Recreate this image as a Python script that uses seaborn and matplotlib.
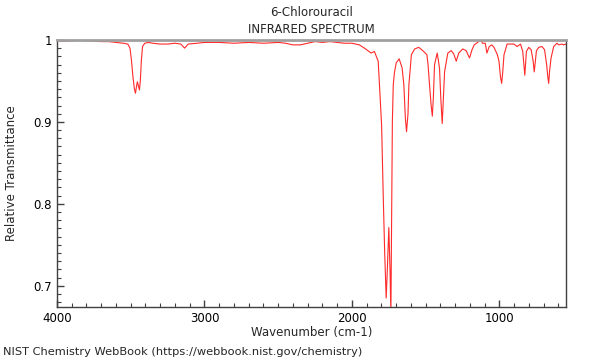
import numpy as np
import pandas as pd
import matplotlib
matplotlib.use("Agg")
import matplotlib.pyplot as plt
import seaborn as sns
from matplotlib.ticker import MultipleLocator, FuncFormatter

# spectrum (wavenumber in cm-1, relative transmittance)
wavenumber = [
    4000, 3950, 3900, 3850, 3800, 3750, 3700, 3650, 3600, 3550, 3520, 3505,
    3495, 3485, 3475, 3468, 3462, 3455, 3448, 3441, 3435, 3428, 3420, 3405,
    3380, 3350, 3300, 3250, 3200, 3160, 3145, 3135, 3125, 3110, 3050, 3000,
    2900, 2800, 2700, 2600, 2500, 2450, 2400, 2350, 2300, 2250, 2200, 2150,
    2100, 2050, 2000, 1950, 1915, 1870, 1848, 1822, 1799, 1787, 1778, 1768,
    1760, 1750, 1742, 1736, 1730, 1726, 1720, 1712, 1700, 1680, 1660, 1648,
    1638, 1630, 1620, 1614, 1597, 1575, 1547, 1520, 1492, 1484, 1474, 1463,
    1455, 1448, 1440, 1422, 1414, 1406, 1398, 1388, 1380, 1372, 1350, 1327,
    1310, 1293, 1276, 1249, 1226, 1203, 1186, 1171, 1148, 1132, 1125, 1115,
    1096, 1085, 1069, 1052, 1037, 1014, 1003, 993, 985, 978, 969, 948, 925,
    902, 880, 857, 842, 828, 817, 801, 785, 772, 764, 756, 749, 733, 711,
    694, 680, 672, 666, 660, 650, 632, 610, 598, 576, 565, 550,
]
transmittance = [
    0.999, 0.9985, 0.999, 0.9995, 0.999, 0.9985, 0.998, 0.998, 0.997, 0.996, 0.995, 0.990,
    0.975, 0.955, 0.940, 0.935, 0.942, 0.949, 0.944, 0.939, 0.950, 0.975, 0.992, 0.996,
    0.997, 0.996, 0.995, 0.995, 0.996, 0.995, 0.992, 0.990, 0.992, 0.995, 0.996, 0.997,
    0.997, 0.996, 0.997, 0.996, 0.997, 0.996, 0.994, 0.994, 0.996, 0.998, 0.997, 0.998,
    0.997, 0.996, 0.996, 0.994, 0.990, 0.984, 0.986, 0.974, 0.896, 0.803, 0.740, 0.685,
    0.720, 0.771, 0.720, 0.665, 0.800, 0.900, 0.945, 0.960, 0.972, 0.977, 0.966, 0.945,
    0.905, 0.888, 0.910, 0.945, 0.982, 0.989, 0.991, 0.987, 0.982, 0.970, 0.945, 0.920,
    0.907, 0.930, 0.970, 0.984, 0.975, 0.965, 0.930, 0.898, 0.930, 0.961, 0.984, 0.987,
    0.983, 0.974, 0.984, 0.989, 0.987, 0.978, 0.988, 0.994, 0.997, 0.999, 1.000, 0.996,
    0.996, 0.984, 0.992, 0.994, 0.991, 0.982, 0.974, 0.955, 0.947, 0.960, 0.982, 0.995, 0.995,
    0.995, 0.992, 0.995, 0.986, 0.957, 0.986, 0.991, 0.988, 0.975, 0.961, 0.975, 0.987, 0.991,
    0.992, 0.988, 0.970, 0.955, 0.947, 0.962, 0.978, 0.992, 0.996, 0.994, 0.995, 0.994, 0.995,
]

x_ticks = [4000, 3000, 2000, 1000]
y_ticks = [0.7, 0.8, 0.9, 1.0]

df = pd.DataFrame({"wn": wavenumber, "T": transmittance})

sns.set_style("ticks")
plt.rcParams["font.family"] = ["DejaVu Sans"]

fig = plt.figure(figsize=(6, 3.6), dpi=100)
ax = fig.add_axes([0.095, 0.147, 0.848, 0.742])

sns.lineplot(data=df, x="wn", y="T", ax=ax, color="#ff2a2a", linewidth=0.8,
             estimator=None, sort=False)

ax.set_xlim(4000, 550)
ax.set_ylim(0.674, 1.0)
ax.set_xticks(x_ticks)
ax.set_yticks(y_ticks)
ax.xaxis.set_minor_locator(MultipleLocator(100))
ax.yaxis.set_minor_locator(MultipleLocator(0.01))
ax.yaxis.set_major_formatter(FuncFormatter(lambda v, p: f"{v:g}"))
ax.tick_params(which="both", direction="in", colors="#404040", labelcolor="black",
               labelsize=8.5, top=False, right=False)
ax.tick_params(which="major", length=5, width=1)
ax.tick_params(which="minor", length=3, width=0.8)

for side in ["left", "bottom", "right"]:
    ax.spines[side].set_color("#404040")
    ax.spines[side].set_linewidth(1)
ax.spines["top"].set_color("#a0a0a0")
ax.spines["top"].set_linewidth(2)

ax.set_xlabel("Wavenumber (cm-1)", fontsize=8.5, labelpad=1)
ax.set_ylabel("Relative Transmittance", fontsize=8.5, labelpad=11.5)

fig.text(0.519, 0.965, "6-Chlorouracil", ha="center", va="center", fontsize=8.5)
fig.text(0.519, 0.919, "INFRARED SPECTRUM", ha="center", va="center", fontsize=8.5)
fig.text(0.005, 0.022, "NIST Chemistry WebBook (https://webbook.nist.gov/chemistry)",
         ha="left", va="center", fontsize=8.2)

fig.savefig("out.png", dpi=100)
